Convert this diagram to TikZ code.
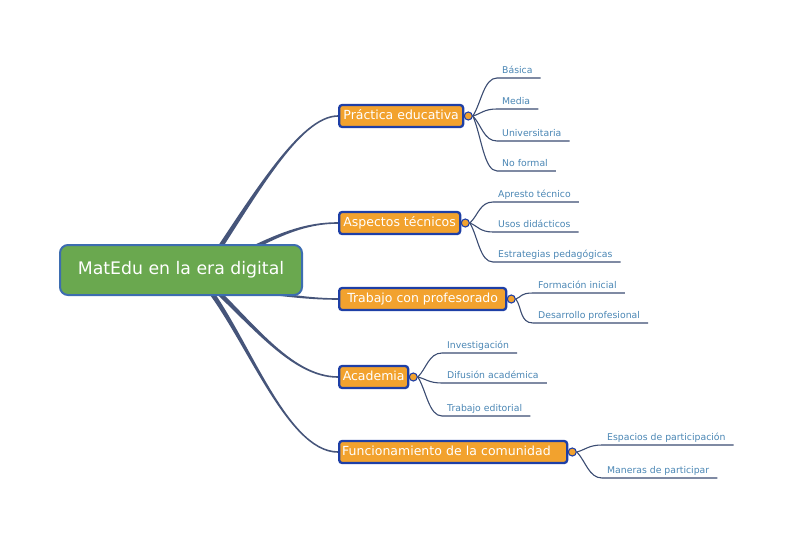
\documentclass[tikz,border=0pt]{standalone}
\usepackage{fontspec}
\setmainfont{DejaVu Sans}
\usetikzlibrary{calc}
\definecolor{rootfill}{HTML}{6AA84F}
\definecolor{rootdraw}{HTML}{3D6DB0}
\definecolor{kidfill}{HTML}{F2A22E}
\definecolor{kiddraw}{HTML}{1E3FA6}
\definecolor{branchcol}{HTML}{46557A}
\definecolor{leaftext}{HTML}{4A86B4}
\definecolor{leafline}{HTML}{3B4C72}
\pgfdeclarelayer{bg}
\pgfsetlayers{bg,main}
% tapered branch: #1 start, #2 control 1, #3 control 2, #4 end
\newcommand\mbranch[4]{%
 \fill[branchcol] ($#1!2.6pt!90:#2$) .. controls ($#2!2.0pt!-90:#1$) and ($#3!0.8pt!90:#4$) .. ($#4!0.8pt!-90:#3$)
   -- ($#4!0.8pt!90:#3$) .. controls ($#3!0.8pt!-90:#4$) and ($#2!2.0pt!90:#1$) .. ($#1!2.6pt!-90:#2$) -- cycle;}
\tikzset{
 rootbox/.style={draw=rootdraw, fill=rootfill, line width=2pt, rounded corners=8pt,
   minimum width=242pt, minimum height=50pt, text=white, font=\fontsize{17.3}{20}\selectfont},
 kidbox/.style={draw=kiddraw, fill=kidfill, line width=2.3pt, rounded corners=3pt,
   minimum height=22pt, inner xsep=3pt, text height=9.5pt, text depth=2.5pt,
   text=white, font=\fontsize{12.5}{14}\selectfont, anchor=west},
 kdot/.style={circle, draw=kiddraw, fill=kidfill, line width=1.1pt, minimum size=8pt, inner sep=0pt},
 leaf/.style={anchor=south west, text=leaftext, font=\fontsize{9.3}{11}\selectfont,
   inner xsep=5pt, inner ysep=2pt, text height=7pt, text depth=2pt, execute at end node={\hspace{3pt}}},
 leafcon/.style={draw=leafline, line width=1.1pt},
}
\newcommand\leafcon[2]{%
 \draw[leafcon] (#1.east) .. controls ($(#1.east)!0.35!(#2.south west)$) and +(-13,0) .. (#2.south west) -- (#2.south east);}
\begin{document}
\begin{tikzpicture}[x=1pt,y=-1pt]
\useasboundingbox (0,0) rectangle (800,546);
\node[rootbox] (root) at (181,270) {MatEdu en la era digital};
\node[kidbox, minimum width=124pt] (c1) at (338,116) {Práctica educativa};
\node[kidbox, minimum width=121pt] (c2) at (338,223) {Aspectos técnicos};
\node[kidbox, minimum width=167pt] (c3) at (338,299) {Trabajo con profesorado};
\node[kidbox, minimum width=69pt] (c4) at (338,377) {Academia};
\node[kidbox, text width=222pt, align=left] (c5) at (338,452) {Funcionamiento de la comunidad};
\foreach \i in {1,...,5}{\node[kdot] (d\i) at ($(c\i.east)+(4,0)$) {};}

\node[leaf] (l11) at (497,78) {Básica};
\node[leaf] (l12) at (497,109) {Media};
\node[leaf] (l13) at (497,141) {Universitaria};
\node[leaf] (l14) at (497,171) {No formal};
\node[leaf] (l21) at (493,202) {Apresto técnico};
\node[leaf] (l22) at (493,232) {Usos didácticos};
\node[leaf] (l23) at (493,262) {Estrategias pedagógicas};
\node[leaf] (l31) at (533,293) {Formación inicial};
\node[leaf] (l32) at (533,323) {Desarrollo profesional};
\node[leaf] (l41) at (442,353) {Investigación};
\node[leaf] (l42) at (442,383) {Difusión académica};
\node[leaf] (l43) at (442,416) {Trabajo editorial};
\node[leaf] (l51) at (602,445) {Espacios de participación};
\node[leaf] (l52) at (602,478) {Maneras de participar};

\begin{pgfonlayer}{bg}
\mbranch{($(root.center)+(24,0)$)}{(255,195)}{(300,116)}{(c1.west)}
\mbranch{($(root.center)+(34,-2)$)}{(270,238)}{(300,223)}{(c2.west)}
\mbranch{($(root.center)+(29,12)$)}{(260,292)}{(300,299)}{(c3.west)}
\mbranch{($(root.center)+(19,5)$)}{(250,320)}{(290,377)}{(c4.west)}
\mbranch{($(root.center)+(19,8)$)}{(245,330)}{(285,452)}{(c5.west)}
\leafcon{d1}{l11}\leafcon{d1}{l12}\leafcon{d1}{l13}\leafcon{d1}{l14}
\leafcon{d2}{l21}\leafcon{d2}{l22}\leafcon{d2}{l23}
\leafcon{d3}{l31}\leafcon{d3}{l32}
\leafcon{d4}{l41}\leafcon{d4}{l42}\leafcon{d4}{l43}
\leafcon{d5}{l51}\leafcon{d5}{l52}
\end{pgfonlayer}
\end{tikzpicture}
\end{document}
